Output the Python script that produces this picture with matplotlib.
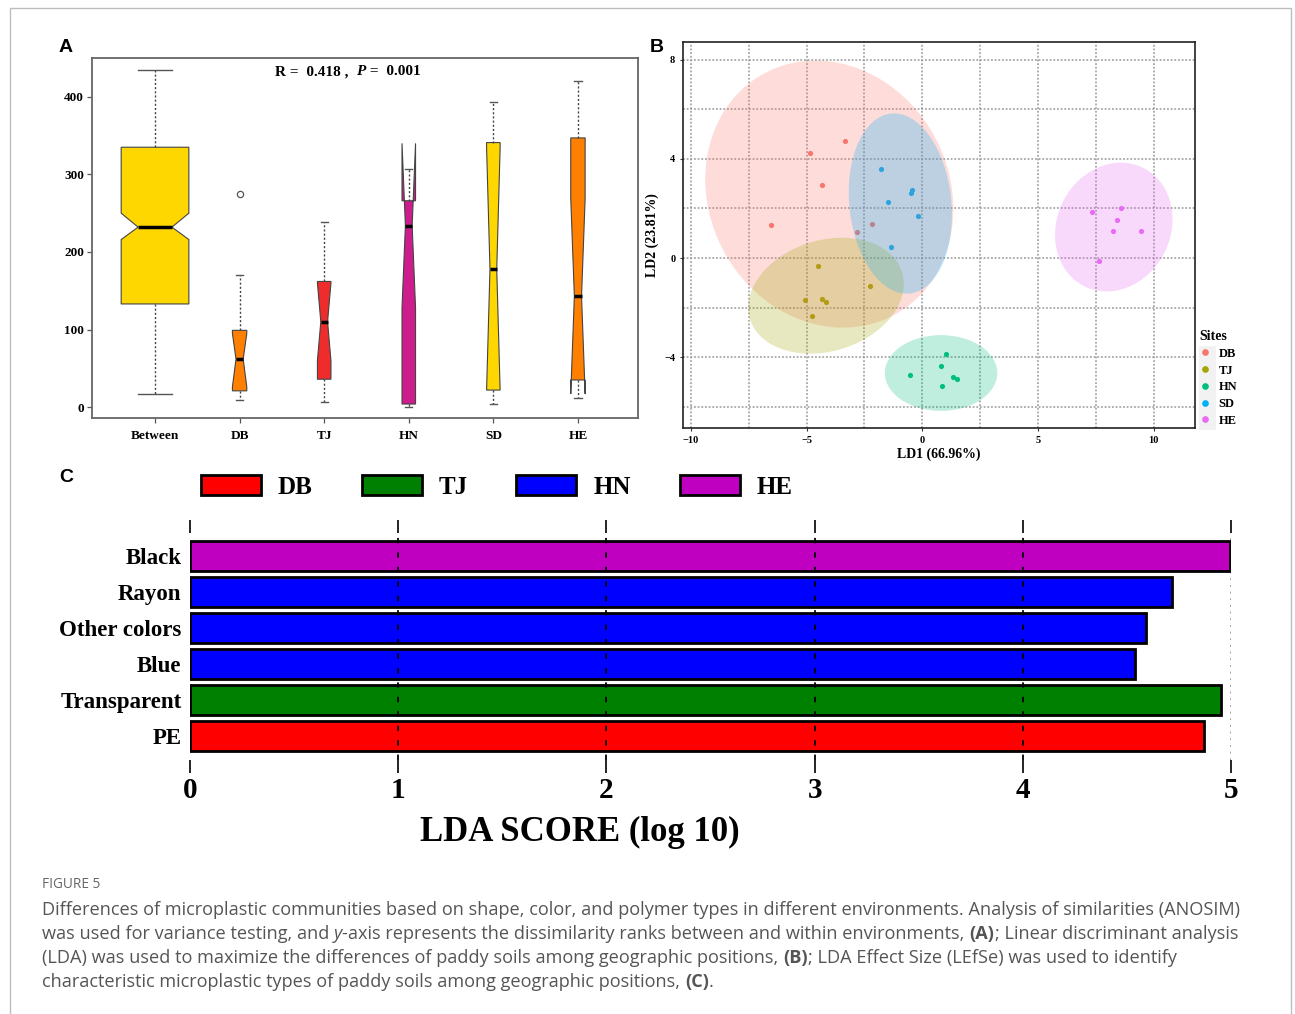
import numpy as np
import matplotlib
matplotlib.use('Agg')
import matplotlib.pyplot as plt
from matplotlib.patches import Ellipse, Patch, Rectangle
from matplotlib.lines import Line2D

# ---------------- data ----------------
# A: ANOSIM dissimilarity ranks (box statistics)
groups_a = ['Between', 'DB', 'TJ', 'HN', 'SD', 'HE']
whis_lo = [17, 9.5, 7, 0, 4, 12]
q1 = [133, 21, 36, 4, 22, 35]
med = [232, 62, 110, 234, 178, 143]
q3 = [335, 99, 162, 266, 341, 347]
whis_hi = [434, 170, 238, 307, 393, 421]
notch_lo = [216, 26, 60, 128, 22, 17]
notch_hi = [250, 95, 160, 340, 334, 269]
fliers_a = [[], [275], [], [], [], []]
box_colors = ['#FFD700', '#FF7F00', '#EE2C2C', '#CD1C8C', '#FFD700', '#FF7F00']

# B: LDA scores per site
sites = ['DB', 'TJ', 'HN', 'SD', 'HE']
site_colors = ['#F8766D', '#A3A500', '#00BF7D', '#00B0F6', '#E76BF3']
ld1_db = [-6.52, -4.87, -3.34, -4.34, -2.83, -2.19]
ld2_db = [1.32, 4.24, 4.72, 2.95, 1.05, 1.37]
ld1_tj = [-4.49, -5.05, -4.34, -4.16, -4.77, -2.24]
ld2_tj = [-0.31, -1.70, -1.64, -1.79, -2.33, -1.14]
ld1_hn = [1.01, 0.79, -0.53, 1.32, 1.51, 0.86]
ld2_hn = [-3.86, -4.36, -4.72, -4.82, -4.90, -5.15]
ld1_sd = [-1.79, -0.46, -0.50, -1.47, -0.17, -1.34]
ld2_sd = [3.61, 2.73, 2.61, 2.26, 1.68, 0.44]
ld1_he = [7.33, 8.59, 8.41, 8.23, 9.44, 7.63]
ld2_he = [1.84, 2.01, 1.52, 1.09, 1.09, -0.12]
# ellipse: centre, half extent in x / y, covariance term
ell_cx = [-4.02, -4.16, 0.81, -0.95, 8.27]
ell_cy = [2.58, -1.52, -4.64, 2.20, 1.25]
ell_hx = [5.36, 3.36, 2.43, 2.23, 2.54]
ell_hy = [5.39, 2.34, 1.53, 3.64, 2.60]
ell_cxy = [-3.2, 1.6, 0.0, -1.0, 0.8]

# C: LEfSe
features = ['Black', 'Rayon', 'Other colors', 'Blue', 'Transparent', 'PE']
lda_scores = [4.996, 4.717, 4.593, 4.537, 4.95, 4.872]
feature_class = ['HE', 'HN', 'HN', 'HN', 'TJ', 'DB']
classes_c = ['DB', 'TJ', 'HN', 'HE']
class_colors_c = ['#FF0000', '#008000', '#0000FF', '#C000C0']

W, H = 1295, 1014
fig = plt.figure(figsize=(W / 100, H / 100), dpi=100)
serif = 'Liberation Serif'


def fx(px):
    return px / W


def fy(py):
    return 1 - py / H


def axes_px(left, top, right, bottom):
    return fig.add_axes([fx(left), fy(bottom), (right - left) / W, (bottom - top) / H])


# ---------------- panel A ----------------
ax_a = axes_px(92, 58, 638, 418)
stats = []
for i in range(len(groups_a)):
    stats.append(dict(med=med[i], q1=q1[i], q3=q3[i], whislo=whis_lo[i], whishi=whis_hi[i],
                      cilo=notch_lo[i], cihi=notch_hi[i], fliers=fliers_a[i]))
widths = [0.80, 0.17, 0.16, 0.16, 0.16, 0.17]
bp = ax_a.bxp(stats, positions=range(1, 7), widths=widths, capwidths=[w * 0.5 for w in widths],
              patch_artist=True, shownotches=True,
              boxprops=dict(edgecolor='#444444', linewidth=0.8),
              whiskerprops=dict(color='#444444', linestyle=(0, (1.5, 1.5)), linewidth=1.0),
              capprops=dict(color='#555555', linewidth=1.0),
              medianprops=dict(color='black', linewidth=2.5),
              flierprops=dict(marker='o', markerfacecolor='none', markeredgecolor='#555555',
                              markersize=4.5, markeredgewidth=0.9))
for patch, c in zip(bp['boxes'], box_colors):
    patch.set_facecolor(c)
ax_a.set_xlim(0.255, 6.71)
ax_a.set_ylim(-14, 450)
ax_a.set_yticks([0, 100, 200, 300, 400])
ax_a.set_xticks(range(1, 7))
ax_a.set_xticklabels(groups_a)
for lab in ax_a.get_xticklabels() + ax_a.get_yticklabels():
    lab.set_fontfamily(serif)
    lab.set_fontweight('bold')
    lab.set_fontsize(9.5)
ax_a.tick_params(axis='both', length=3.6, width=0.9, color='#555555')
ax_a.tick_params(axis='x', pad=5)
ax_a.tick_params(axis='y', pad=2)
for s in ax_a.spines.values():
    s.set_color('#666666')
    s.set_linewidth(1.3)
tx = 0.484
ax_a.text(tx, 0.962, 'R =  0.418 ,  ', transform=ax_a.transAxes, ha='right', va='center',
          fontfamily=serif, fontweight='bold', fontsize=11)
ax_a.text(tx, 0.962, 'P', transform=ax_a.transAxes, ha='left', va='center',
          fontfamily=serif, fontweight='bold', fontstyle='italic', fontsize=11)
ax_a.text(tx + 0.018, 0.962, ' =  0.001', transform=ax_a.transAxes, ha='left', va='center',
          fontfamily=serif, fontweight='bold', fontsize=11)

# ---------------- panel B ----------------
ax_b = axes_px(683, 42, 1195, 428)
ld1 = [ld1_db, ld1_tj, ld1_hn, ld1_sd, ld1_he]
ld2 = [ld2_db, ld2_tj, ld2_hn, ld2_sd, ld2_he]
for i, s in enumerate(sites):
    ax_b.scatter(ld1[i], ld2[i], s=14, color=site_colors[i], zorder=3, linewidths=0, label=s)
for i in range(len(sites)):
    cov = np.array([[ell_hx[i] ** 2, ell_cxy[i]], [ell_cxy[i], ell_hy[i] ** 2]])
    vals, vecs = np.linalg.eigh(cov)
    ang = np.degrees(np.arctan2(vecs[1, 1], vecs[0, 1]))
    ax_b.add_patch(Ellipse((ell_cx[i], ell_cy[i]), 2 * np.sqrt(vals[1]), 2 * np.sqrt(vals[0]),
                           angle=ang, facecolor=site_colors[i], alpha=0.25, edgecolor='none', zorder=4))
ax_b.set_xlim(-10.34, 11.78)
ax_b.set_ylim(-6.86, 8.72)
ax_b.set_xticks([-10, -5, 0, 5, 10])
ax_b.set_xticks([-7.5, -2.5, 2.5, 7.5], minor=True)
ax_b.set_yticks([-4, 0, 4, 8])
ax_b.set_yticks([-6, -2, 2, 6], minor=True)
ax_b.grid(True, which='both', color='#999999', linestyle=(0, (1.2, 1.2)), linewidth=1.1, zorder=0)
ax_b.set_axisbelow(True)
ax_b.tick_params(which='minor', length=0)
ax_b.tick_params(which='major', length=2.5, width=0.8, color='#333333', pad=3)
for lab in ax_b.get_xticklabels() + ax_b.get_yticklabels():
    lab.set_fontfamily(serif)
    lab.set_fontweight('bold')
    lab.set_fontsize(7.5)
for s in ax_b.spines.values():
    s.set_color('#222222')
    s.set_linewidth(1.2)
ax_b.set_xlabel('LD1 (66.96%)', fontfamily=serif, fontweight='bold', fontsize=10, labelpad=2)
ax_b.set_ylabel('LD2 (23.81%)', fontfamily=serif, fontweight='bold', fontsize=10, labelpad=4)
fig.patches.append(Rectangle((fx(1199), fy(430)), 17 / W, 84 / H, transform=fig.transFigure,
                             facecolor='#f2f2f2', edgecolor='none', zorder=0))
handles_b = [Line2D([], [], marker='o', linestyle='none', markersize=3.8, color=c) for c in site_colors]
leg_b = fig.legend(handles_b, sites, loc='upper left', bbox_to_anchor=(fx(1199), fy(330)),
                   frameon=False, title='Sites', alignment='left', handlelength=1.0,
                   handletextpad=0.55, labelspacing=0.38, borderpad=0, borderaxespad=0,
                   prop=dict(family=serif, weight='bold', size=9),
                   title_fontproperties=dict(family=serif, weight='bold', size=10))

# ---------------- panel C ----------------
ax_c = axes_px(190, 533, 1231, 760)
cmap_c = dict(zip(classes_c, class_colors_c))
ypos = np.arange(len(features))[::-1]
ax_c.barh(ypos, lda_scores, height=0.82, color=[cmap_c[c] for c in feature_class],
          edgecolor='black', linewidth=2, zorder=2)
for v in range(1, 5):
    ax_c.axvline(v, color='black', linestyle=(0, (3, 5)), linewidth=1.3, zorder=3)
ax_c.axvline(5, color='#888888', linestyle=(0, (1, 3)), linewidth=1.2, zorder=1)
ax_c.set_xlim(0, 5)
ax_c.set_ylim(-0.667, 5.64)
ax_c.set_xticks(range(0, 6))
ax_c.set_yticks(ypos)
ax_c.set_yticklabels(features)
ax_c.tick_params(axis='x', top=True, bottom=True, direction='out', length=9.5, width=1.2, pad=3)
ax_c.tick_params(axis='y', length=0, pad=6)
for lab in ax_c.get_xticklabels():
    lab.set_fontfamily(serif)
    lab.set_fontweight('bold')
    lab.set_fontsize(21)
for lab in ax_c.get_yticklabels():
    lab.set_fontfamily(serif)
    lab.set_fontweight('bold')
    lab.set_fontsize(16.5)
for s in ax_c.spines.values():
    s.set_visible(False)
ax_c.set_xlabel('LDA SCORE (log 10)', fontfamily=serif, fontweight='bold', fontsize=25)
ax_c.xaxis.set_label_coords((580 - 190) / (1231 - 190), -(832 - 760) / (760 - 533), transform=ax_c.transAxes)
ax_c.xaxis.label.set_va('center')
handles_c = [Patch(facecolor=c, edgecolor='black', linewidth=2) for c in class_colors_c]
ax_c.legend(handles_c, classes_c, loc='center left', bbox_to_anchor=(fx(201), fy(487)),
            bbox_transform=fig.transFigure, ncol=4, frameon=False, handlelength=2.4,
            handleheight=0.8, handletextpad=0.68, columnspacing=1.95, borderpad=0, borderaxespad=0,
            prop=dict(family=serif, weight='bold', size=18))

# ---------------- panel letters, frame, caption ----------------
for lab, x, y in [('A', 66, 48), ('B', 657, 48), ('C', 66, 478)]:
    fig.text(fx(x), fy(y), lab, ha='center', va='center', fontfamily='Liberation Sans',
             fontweight='bold', fontsize=14)

fig.add_artist(Line2D([fx(10), fx(10), fx(1291), fx(1291)], [0, fy(7.5), fy(7.5), 0],
                      transform=fig.transFigure, color='#bdbdbd', linewidth=1))

cap_font = 'Open Sans'
cap_color = '#555555'
fig.text(fx(42), fy(888), 'FIGURE 5', fontfamily=cap_font, fontsize=9.8, color='#666666', va='baseline')

renderer = fig.canvas.get_renderer()


def rich_line(x_px, base_py, parts, size=13.1):
    x = fx(x_px)
    for txt, weight, style in parts:
        t = fig.text(x, fy(base_py), txt, fontfamily=cap_font, fontsize=size, color=cap_color,
                     fontweight=weight, fontstyle=style, va='baseline', ha='left')
        bb = t.get_window_extent(renderer)
        x += bb.width / W


n, b, it = 'normal', 'bold', 'italic'
rich_line(42, 915, [('Differences of microplastic communities based on shape, color, and polymer types in '
                     'different environments. Analysis of similarities (ANOSIM)', n, n)])
rich_line(42, 939, [('was used for variance testing, and ', n, n), ('y', n, it),
                    ('-axis represents the dissimilarity ranks between and within environments, ', n, n),
                    ('(A)', b, n), ('; Linear discriminant analysis', n, n)])
rich_line(42, 963, [('(LDA) was used to maximize the differences of paddy soils among geographic positions, ', n, n),
                    ('(B)', b, n), ('; LDA Effect Size (LEfSe) was used to identify', n, n)])
rich_line(42, 987, [('characteristic microplastic types of paddy soils among geographic positions, ', n, n),
                    ('(C)', b, n), ('.', n, n)])

fig.savefig('out.png', dpi=100)
